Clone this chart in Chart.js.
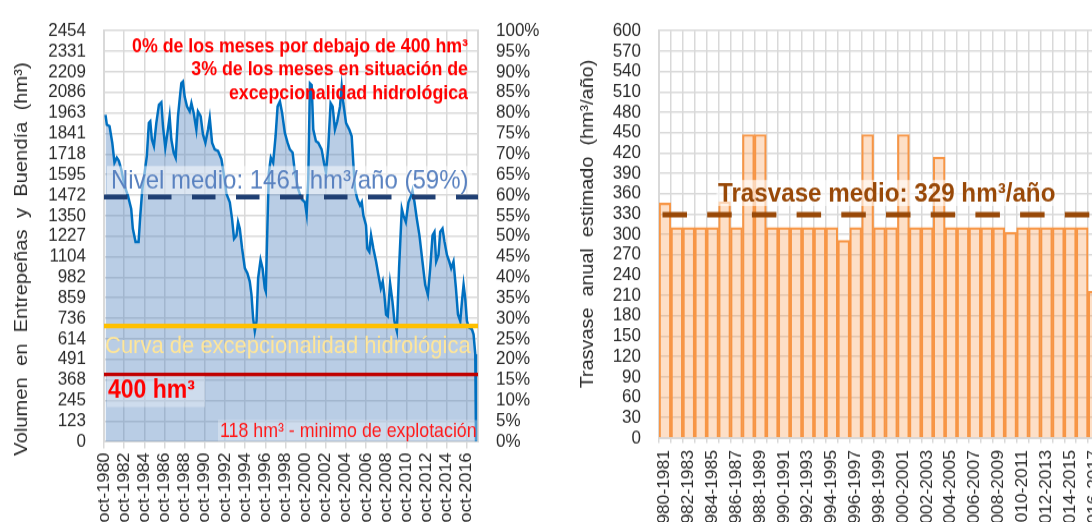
<!DOCTYPE html>
<html><head><meta charset="utf-8">
<script src="https://cdn.jsdelivr.net/npm/chart.js@4.4.1/dist/chart.umd.min.js"></script>
<style>
html,body{margin:0;padding:0;background:#fff;overflow:hidden;width:1092px;height:522px;position:relative;}
canvas{position:absolute;top:0;transform:scaleY(1.08977);transform-origin:0 0;}
#c1{left:0;}
#c2{left:560px;}
</style></head><body>
<canvas id="c1" width="560" height="479"></canvas>
<canvas id="c2" width="560" height="479"></canvas>
<script>
// ---------- DATA: left panel (monthly volume) ----------
const volumeDates = [1980.90,1981.03,1981.30,1981.57,1981.79,1982.02,1982.22,1982.46,1982.79,1983.12,1983.45,1983.61,1983.88,1984.18,1984.35,1984.55,1984.78,1985.00,1985.20,1985.34,1985.50,1985.70,1985.94,1986.20,1986.44,1986.60,1986.83,1987.09,1987.26,1987.43,1987.66,1987.86,1988.09,1988.25,1988.42,1988.58,1988.75,1988.98,1989.25,1989.42,1989.65,1989.91,1990.07,1990.34,1990.57,1990.81,1991.07,1991.24,1991.47,1991.73,1992.06,1992.40,1992.66,1992.90,1993.23,1993.45,1993.65,1993.89,1994.05,1994.22,1994.45,1994.72,1994.98,1995.21,1995.38,1995.54,1995.71,1995.88,1996.04,1996.28,1996.48,1996.70,1996.80,1996.97,1997.10,1997.30,1997.53,1997.77,1997.97,1998.20,1998.42,1998.69,1998.96,1999.19,1999.46,1999.69,2000.01,2000.35,2000.68,2000.85,2001.01,2001.18,2001.35,2001.51,2001.77,2002.00,2002.34,2002.57,2002.77,2003.00,2003.23,2003.43,2003.66,2003.89,2004.16,2004.33,2004.49,2004.76,2005.08,2005.32,2005.48,2005.65,2005.88,2006.15,2006.32,2006.48,2006.74,2006.87,2007.07,2007.24,2007.47,2007.74,2007.97,2008.21,2008.40,2008.56,2008.73,2008.90,2009.13,2009.36,2009.56,2009.80,2010.02,2010.29,2010.45,2010.69,2010.95,2011.22,2011.35,2011.55,2011.78,2012.04,2012.34,2012.61,2012.88,2013.11,2013.34,2013.53,2013.70,2013.93,2014.10,2014.33,2014.53,2014.77,2015.00,2015.19,2015.42,2015.66,2015.86,2016.09,2016.26,2016.42,2016.58,2016.75,2016.98,2017.25,2017.41,2017.58,2017.65];
const volumeValues = [1952,1893,1884,1785,1666,1696,1677,1627,1528,1469,1390,1272,1193,1193,1351,1508,1607,1706,1903,1913,1804,1765,1903,2012,2026,1884,1755,1864,1943,1804,1726,1696,1943,2041,2140,2150,2061,2002,1972,2022,1962,1864,1972,1943,1834,1785,1864,1933,1785,1745,1736,1686,1588,1479,1430,1331,1212,1232,1311,1272,1153,1035,1005,956,877,739,660,719,976,1085,1035,916,897,1311,1607,1696,1666,1824,2002,2032,1962,1844,1785,1745,1726,1607,1508,1449,1430,1360,1568,2140,2130,1864,1795,1785,1745,1666,1607,1765,2022,2002,1864,1913,2002,2120,2022,1903,1864,1824,1666,1508,1449,1410,1430,1351,1292,1153,1134,1232,1153,1075,996,916,956,877,759,749,946,838,719,660,1035,1390,1351,1311,1430,1469,1499,1430,1331,1232,1075,936,877,1035,1232,1252,1075,1114,1252,1272,1193,1114,1075,1035,1075,916,759,719,838,936,857,719,680,670,640,522,0];
const volumeTickLabels = ['0','123','245','368','491','614','736','859','982','1104','1227','1350','1472','1595','1718','1841','1963','2086','2209','2331','2454'];
const volumeAxisMax = 2454;
const xTickYears = [1980,1982,1984,1986,1988,1990,1992,1994,1996,1998,2000,2002,2004,2006,2008,2010,2012,2014,2016];
const xAxisStart = 1980.75, xAxisEnd = 2017.85;
const nivelMedio = 1461;
const curvaExcepcionalidad = 690;
const umbral400 = 400;

// ---------- DATA: right panel (annual transfer) ----------
const hydroYears = ['1980-1981','1981-1982','1982-1983','1983-1984','1984-1985','1985-1986','1986-1987','1987-1988','1988-1989','1989-1990','1990-1991','1991-1992','1992-1993','1993-1994','1994-1995','1995-1996','1996-1997','1997-1998','1998-1999','1999-2000','2000-2001','2001-2002','2002-2003','2003-2004','2004-2005','2005-2006','2006-2007','2007-2008','2008-2009','2009-2010','2010-2011','2011-2012','2012-2013','2013-2014','2014-2015','2015-2016','2016-2017'];
const trasvaseValues = [346,310,310,310,310,348,310,447,447,310,310,310,310,310,310,291,310,447,310,310,447,310,310,414,310,310,310,310,310,303,310,310,310,310,310,310,216];
const trasvaseMedio = 329;

// ---------- styling ----------
const SY = 522 / 479;          // vertical stretch of the reference picture
const v = px => px / SY;       // page y (px) -> canvas y
const FONT = "'Liberation Sans', Arial, sans-serif";
Chart.defaults.font.family = FONT;
Chart.defaults.color = '#2b2b2b';
const GRID = '#d9d9d9';

function hline(ctx, x0, x1, y, color, w, dash) {
  ctx.save();
  ctx.beginPath();
  ctx.strokeStyle = color; ctx.lineWidth = w; ctx.lineCap = 'butt';
  ctx.setLineDash(dash || []);
  ctx.moveTo(x0, y); ctx.lineTo(x1, y); ctx.stroke();
  ctx.restore();
}
function label(ctx, text, x, y, font, color, align, box) {
  ctx.save();
  if (box) { ctx.fillStyle = box.c; ctx.fillRect(box.x, box.y, box.w, box.h); }
  ctx.font = font; ctx.fillStyle = color; ctx.textAlign = align || 'left'; ctx.textBaseline = 'middle';
  ctx.fillText(text, x, y);
  ctx.restore();
}
function vtitle(ctx, text, x, y, font, color) {
  ctx.save();
  ctx.translate(x, y); ctx.rotate(-Math.PI / 2);
  ctx.font = font; ctx.fillStyle = color; ctx.textAlign = 'center'; ctx.textBaseline = 'middle';
  ctx.fillText(text, 0, 0);
  ctx.restore();
}

const leftOverlay = {
  id: 'leftOverlay',
  afterDatasetsDraw(chart) {
    const { ctx, chartArea: a, scales: { y } } = chart;
    hline(ctx, a.left, a.right, y.getPixelForValue(curvaExcepcionalidad), '#ffc000', 4.1);
    hline(ctx, a.left, a.right, y.getPixelForValue(umbral400), '#c00000', 3.2);
    hline(ctx, a.left, a.right, y.getPixelForValue(nivelMedio), '#1f3f73', 4.6, [23.5, 20.5]);
    const red = 'bold 17.8px ' + FONT;
    label(ctx, '0% de los meses por debajo de 400 hm³', 468, v(46.5), red, '#ff0000', 'right');
    label(ctx, '3% de los meses en situación de', 468, v(70), red, '#ff0000', 'right');
    label(ctx, 'excepcionalidad hidrológica', 468, v(94), red, '#ff0000', 'right');
    label(ctx, 'Nivel medio: 1461 hm³/año (59%)', 111, v(181), '24px ' + FONT, '#5a82c0', 'left',
      { x: 107, y: v(166), w: 365, h: v(28), c: 'rgba(255,255,255,0.5)' });
    label(ctx, 'Curva de excepcionalidad hidrológica', 105, v(347), '22px ' + FONT, '#ffe699', 'left');
    label(ctx, '400 hm³', 108, v(391), 'bold 23px ' + FONT, '#ff0000', 'left',
      { x: 107, y: v(376), w: 98, h: v(31), c: 'rgba(255,255,255,0.3)' });
    label(ctx, '118 hm³ - minimo de explotación', 220, v(432), '17.8px ' + FONT, '#ff1a1a', 'left',
      { x: 218, y: v(420), w: 259, h: v(21), c: 'rgba(255,255,255,0.3)' });
    vtitle(ctx, 'Volumen  en  Entrepeñas  y  Buendía  (hm³)', 22, v(259), '18.5px ' + FONT, '#2b2b2b');
  }
};

new Chart(document.getElementById('c1'), {
  type: 'line',
  data: {
    datasets: [{
      data: volumeDates.map((d, i) => ({ x: d, y: volumeValues[i] })),
      borderColor: '#0070c0', borderWidth: 2.5,
      backgroundColor: 'rgba(79,129,189,0.4)', fill: 'origin',
      pointRadius: 0, tension: 0, yAxisID: 'y'
    }, { data: [], yAxisID: 'y2' }]
  },
  options: {
    responsive: false, animation: false, devicePixelRatio: 1,
    layout: { padding: { top: v(27), left: 0, right: 0, bottom: 0 } },
    plugins: { legend: { display: false }, tooltip: { enabled: false } },
    scales: {
      x: {
        type: 'linear', min: xAxisStart, max: xAxisEnd,
        afterBuildTicks: s => { s.ticks = xTickYears.map(yv => ({ value: yv + 0.75 })); },
        ticks: { autoSkip: false, maxRotation: 90, minRotation: 90, padding: v(4), font: { size: 16.5 },
          callback: (val, i) => 'oct-' + xTickYears[i] },
        grid: { color: GRID, lineWidth: 1.5, tickLength: v(7) },
        border: { color: GRID, width: 2 },
        afterFit: s => { s.height = v(522 - 441.5); }
      },
      y: {
        position: 'left', min: 0, max: volumeAxisMax,
        afterBuildTicks: s => { s.ticks = volumeTickLabels.map((t, i) => ({ value: i * volumeAxisMax / 20 })); },
        ticks: { autoSkip: false, callback: (val, i) => volumeTickLabels[i], padding: 18, font: { size: 17 } },
        grid: { color: GRID, lineWidth: 1.5, drawTicks: false },
        border: { color: GRID, width: 2 },
        afterFit: s => { s.width = 104; }
      },
      y2: {
        position: 'right', min: 0, max: 100,
        ticks: { autoSkip: false, stepSize: 5, callback: val => val + '%', padding: 18, font: { size: 17 } },
        grid: { drawOnChartArea: false, drawTicks: false },
        border: { color: GRID, width: 2 },
        afterFit: s => { s.width = 82; }
      }
    }
  },
  plugins: [leftOverlay]
});

const rightOverlay = {
  id: 'rightOverlay',
  afterDatasetsDraw(chart) {
    const { ctx, chartArea: a, scales: { y } } = chart;
    hline(ctx, a.left + 3.5, a.right, y.getPixelForValue(trasvaseMedio), '#984807', 5, [24.5, 20.2]);
    label(ctx, 'Trasvase medio: 329 hm³/año', 158, v(194), 'bold 24.2px ' + FONT, '#984807', 'left',
      { x: 156.5, y: v(180), w: 339, h: v(26), c: 'rgba(255,255,255,0.6)' });
    vtitle(ctx, 'Trasvase  anual  estimado  (hm³/año)', 28, v(224), '18.2px ' + FONT, '#2b2b2b');
  }
};

new Chart(document.getElementById('c2'), {
  type: 'bar',
  data: {
    labels: hydroYears,
    datasets: [{
      data: trasvaseValues,
      backgroundColor: 'rgba(247,150,70,0.3)', borderColor: '#f79646', borderWidth: 1.5,
      barPercentage: 1, categoryPercentage: 1
    }]
  },
  options: {
    responsive: false, animation: false, devicePixelRatio: 1,
    layout: { padding: { top: v(27), left: 0, right: 19, bottom: 0 } },
    plugins: { legend: { display: false }, tooltip: { enabled: false } },
    scales: {
      x: {
        ticks: { autoSkip: false, maxRotation: 90, minRotation: 90, padding: v(7), font: { size: 16 },
          callback: (val, i) => (i % 2 === 0 ? hydroYears[i] : '') },
        grid: { color: GRID, lineWidth: 1.5, tickLength: v(5), offset: true },
        border: { color: GRID, width: 2 },
        afterFit: s => { s.height = v(522 - 438); }
      },
      y: {
        min: 0, max: 600,
        ticks: { autoSkip: false, stepSize: 30, padding: 18, font: { size: 17 } },
        grid: { color: GRID, lineWidth: 1.5, drawTicks: false },
        border: { color: GRID, width: 2 },
        afterFit: s => { s.width = 99; }
      }
    }
  },
  plugins: [rightOverlay]
});
</script>
</body></html>
